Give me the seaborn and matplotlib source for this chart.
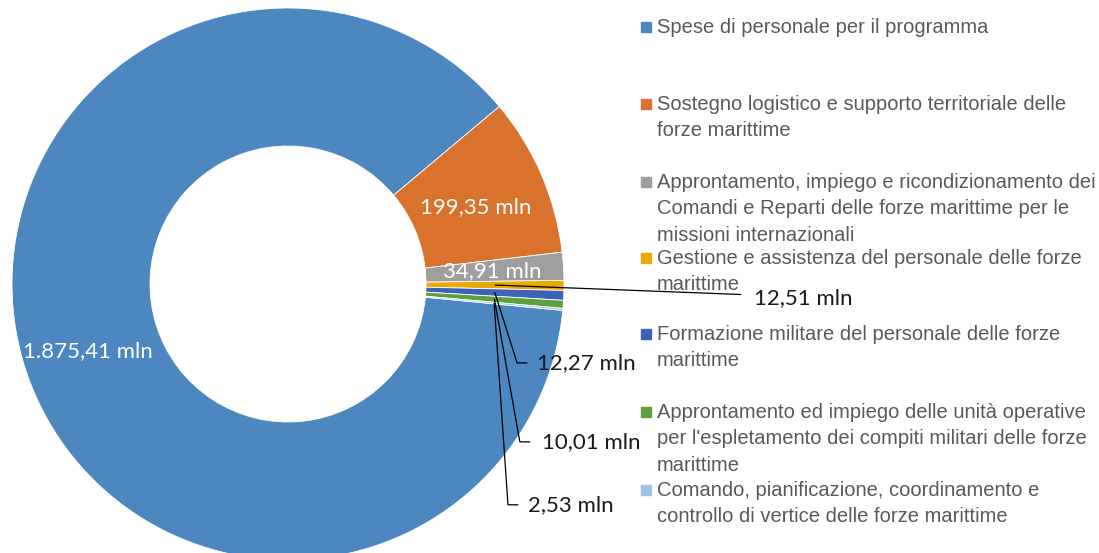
import matplotlib
matplotlib.use("Agg")
import matplotlib.pyplot as plt
import seaborn as sns
import numpy as np
from matplotlib.patches import Rectangle

# dati (milioni di euro)
categorie = [
    "Spese di personale per il programma",
    "Sostegno logistico e supporto territoriale delle\nforze marittime",
    "Approntamento, impiego e ricondizionamento dei\nComandi e Reparti delle forze marittime per le\nmissioni internazionali",
    "Gestione e assistenza del personale delle forze\nmarittime",
    "Formazione militare del personale delle forze\nmarittime",
    "Approntamento ed impiego delle unità operative\nper l'espletamento dei compiti militari delle forze\nmarittime",
    "Comando, pianificazione, coordinamento e\ncontrollo di vertice delle forze marittime",
]
valori = [1875.41, 199.35, 34.91, 12.51, 12.27, 10.01, 2.53]
etichette = ["1.875,41 mln", "199,35 mln", "34,91 mln", "12,51 mln",
             "12,27 mln", "10,01 mln", "2,53 mln"]
colori = ["#4C87C0", "#D8722C", "#9E9E9E", "#E8AA00", "#3D62B8", "#5FA03E", "#9DC3E6"]

sns.set_theme(style="white")
plt.rcParams["font.family"] = ["Liberation Sans", "DejaVu Sans"]

W, H = 1099, 553
fig = plt.figure(figsize=(W / 100, H / 100), dpi=100)

# donut: centro (288, 284) px, raggio 276 px
cx, cy, R = 288, 284, 276
ax = fig.add_axes([(cx - R) / W, (H - cy - R) / H, 2 * R / W, 2 * R / H])
wedges, _ = ax.pie(valori, colors=colori, startangle=-5.5, counterclock=False,
                   radius=1.0, wedgeprops=dict(width=0.5, edgecolor="white", linewidth=0.6))
ax.set_xlim(-1, 1)
ax.set_ylim(-1, 1)
ax.set_aspect("equal")
ax.axis("off")

lbl_font = dict(family=["Lato", "DejaVu Sans"], fontsize=16)

def polar(w, r):
    a = np.deg2rad((w.theta1 + w.theta2) / 2)
    return r * np.cos(a), r * np.sin(a)

# etichette interne (bianche)
for i, r, dy in [(0, 0.75, -0.02), (1, 0.75, -0.02), (2, 0.75, 0.0)]:
    x, y = polar(wedges[i], r)
    ax.text(x - 0.01, y + dy, etichette[i], color="white", ha="center", va="center", **lbl_font)

# etichette esterne con linee di richiamo
x, y = polar(wedges[3], 0.75)
ax.plot([x, 1.64], [y, -0.038], color="black", lw=0.9, clip_on=False)
ax.text(1.69, -0.05, etichette[3], color="#1a1a1a", ha="left", va="center",
        clip_on=False, **lbl_font)

esterne = [(4, 0.83, -0.286, 0.902), (5, 0.84, -0.572, 0.92), (6, 0.797, -0.80, 0.87)]
for i, xl, yl, xt in esterne:
    x, y = polar(wedges[i], 0.75)
    ax.plot([x, xl, xl + 0.036], [y, yl, yl], color="black", lw=0.9, clip_on=False)
    ax.text(xt, yl, etichette[i], color="#1a1a1a", ha="left", va="center",
            clip_on=False, **lbl_font)

# legenda manuale (posizioni in pixel)
leg_y = [27, 104, 182, 258, 334, 412, 490]
for c, lab, yy in zip(colori, categorie, leg_y):
    fig.patches.append(Rectangle((641 / W, (H - yy - 5) / H), 10 / W, 10 / H,
                                 transform=fig.transFigure, color=c, zorder=3))
    fig.text(657 / W, (H - yy + 9) / H, lab, color="#595959", fontsize=14.5,
             ha="left", va="top", linespacing=1.5)

fig.savefig("out.png", dpi=100)
